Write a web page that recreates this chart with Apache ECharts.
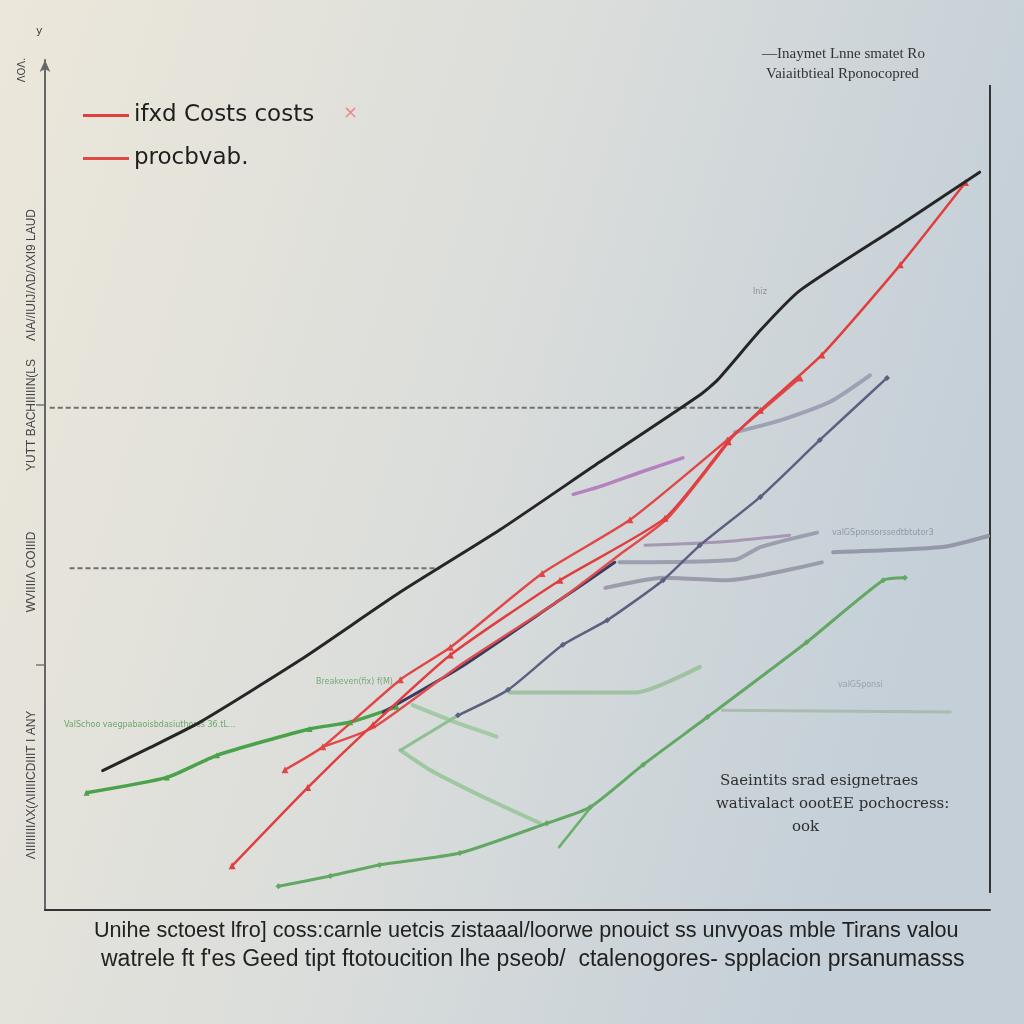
<!DOCTYPE html>
<html>
<head>
<meta charset="utf-8">
<script src="https://cdn.jsdelivr.net/npm/echarts@6/dist/echarts.min.js"></script>
<style>html,body{margin:0;padding:0;}#c{width:1024px;height:1024px;}</style>
</head>
<body>
<div id="c"></div>
<script>
// ---- data (x: production volume units 0-100, y: cost units 0-100) ----
const totalCost   = [[6.1,16.4],[11.1,19.1],[16.4,22.1],[27.0,29.4],[37.6,37.4],[48.1,44.7],[58.7,52.7],[69.3,60.6],[71.2,62.4],[75.7,68.2],[79.9,72.9],[90.5,80.6],[98.9,86.8]];
const fixedCosts  = [[19.8,5.2],[27.8,14.4],[34.7,21.8],[42.9,30.0],[54.5,38.8],[65.6,46.1],[72.3,55.1],[75.7,58.8],[82.2,65.3],[90.5,75.9],[97.4,85.6]];
const production  = [[25.4,16.5],[29.4,19.2],[37.6,27.1],[42.9,30.9],[52.6,39.6],[61.9,45.9],[72.2,55.3],[79.9,62.6]];
const redThird    = [[29.4,19.2],[34.8,21.5],[43.9,28.8],[54.5,36.5],[60.8,41.8],[65.9,46.1],[72.5,55.3]];
const pinkCurve   = [[55.9,48.9],[58.7,49.8],[63.0,51.5],[67.5,53.2]];
const navyOne     = [[35.8,23.3],[43.9,28.5],[54.5,36.5],[60.3,40.9]];
const navyTwo     = [[43.7,22.9],[49.0,25.9],[54.8,31.2],[59.5,34.1],[65.4,38.8],[69.3,42.9],[75.7,48.6],[82.0,55.3],[89.1,62.6]];
const grayA       = [[73.0,56.2],[77.8,57.6],[83.1,59.8],[87.3,62.9]];
const grayB       = [[60.8,40.9],[73.0,41.2],[75.7,42.7],[81.7,44.4]];
const grayC       = [[59.3,37.9],[65.4,39.1],[72.2,38.8],[82.2,40.9]];
const grayD       = [[83.4,42.1],[95.0,42.7],[99.8,44.0]];
const grayE       = [[63.5,42.9],[71.4,43.3],[78.8,44.1]];
const greenMain   = [[24.7,2.8],[30.2,4.0],[35.4,5.3],[43.9,6.7],[53.1,10.2],[57.7,12.1],[63.3,17.1],[70.1,22.7],[80.6,31.5],[88.7,38.8],[91.0,39.1]];
const greenTail   = [[54.4,7.4],[57.7,12.0]];
const greenLeft   = [[4.4,13.8],[12.9,15.6],[18.2,18.2],[28.0,21.3],[32.3,22.1],[37.2,23.9]];
const paleA       = [[37.6,18.8],[43.7,22.9]];
const paleB       = [[37.6,18.8],[40.7,16.5],[46.0,13.5],[52.4,10.2]];
const paleC       = [[38.9,24.1],[43.4,22.1],[47.8,20.4]];
const paleD       = [[49.2,25.6],[62.6,25.6],[69.3,28.6]];
const paleE       = [[71.7,23.5],[95.8,23.3]];
const dashUpper   = [[0.5,59.1],[75.7,59.1]];
const dashLower   = [[2.6,40.2],[41.8,40.2]];
const legendNames = ['ifxd Costs costs', 'procbvab.'];

const chart = echarts.init(document.getElementById('c'));

function ln(name, data, color, width, opts) {
  return Object.assign({
    name: name, type: 'line', data: data, smooth: 0.2,
    symbol: 'none', symbolSize: 7, silent: true, animation: false,
    lineStyle: { color: color, width: width, cap: 'round', join: 'round' },
    itemStyle: { color: color }
  }, opts || {});
}

chart.setOption({
  animation: false,
  backgroundColor: {
    type: 'linear', x: 0, y: 0, x2: 1, y2: 0.3,
    colorStops: [{offset: 0, color: '#ece7da'}, {offset: 0.5, color: '#dcdedb'}, {offset: 1, color: '#c4cfd8'}]
  },
  grid: { left: 45, right: 34, top: 60, bottom: 114 },
  xAxis: {
    type: 'value', min: 0, max: 100,
    axisLine: { show: true, lineStyle: { color: '#333', width: 2 } },
    axisTick: { show: false }, axisLabel: { show: false }, splitLine: { show: false }
  },
  yAxis: {
    type: 'value', min: 0, max: 100,
    axisLine: { show: true, symbol: ['none', 'arrow'], symbolSize: [8, 12], lineStyle: { color: '#666', width: 2 } },
    axisTick: { show: false }, axisLabel: { show: false }, splitLine: { show: false }
  },
  legend: {
    data: legendNames, orient: 'vertical', left: 78, top: 99, itemGap: 20,
    icon: 'rect', itemWidth: 46, itemHeight: 3,
    textStyle: { fontFamily: 'DejaVu Sans', fontSize: 23, color: '#1e1e1e' },
    selectedMode: false
  },
  series: [
    ln('dashU', dashUpper, '#6f6f6f', 2, { smooth: false, lineStyle: { color: '#707070', width: 2, type: [5, 3] } }),
    ln('dashL', dashLower, '#6f6f6f', 2, { smooth: false, lineStyle: { color: '#707070', width: 2, type: [5, 3] } }),
    ln('paleE', paleE, '#a9bcae', 3),
    ln('paleD', paleD, '#9fc2a2', 4),
    ln('paleC', paleC, '#a3c9a6', 4),
    ln('paleB', paleB, '#9fc8a1', 4),
    ln('paleA', paleA, '#8fc092', 3),
    ln('grayD', grayD, '#9598a8', 4),
    ln('grayC', grayC, '#9a9ca9', 4),
    ln('grayB', grayB, '#9c9fae', 4),
    ln('grayE', grayE, '#a796b4', 3),
    ln('grayA', grayA, '#9ea1b4', 4),
    ln('greenMain', greenMain, '#62a864', 3, { symbol: 'diamond', showSymbol: true, symbolSize: 6 }),
    ln('greenTail', greenTail, '#6cae6c', 2.5),
    ln('greenLeft', greenLeft, '#4aa24a', 3.5, { symbol: 'triangle', showSymbol: true, symbolSize: 6 }),
    ln('navyTwo', navyTwo, '#5d6080', 2.5, { symbol: 'diamond', showSymbol: true, symbolSize: 6 }),
    ln('navyOne', navyOne, '#3a3b62', 3),
    ln('pink', pinkCurve, '#b581bf', 3.5),
    ln('redThird', redThird, '#e24b4b', 2.5),
    ln(legendNames[1], production, '#e04848', 2.5, { symbol: 'triangle', showSymbol: true, symbolSize: 7 }),
    ln(legendNames[0], fixedCosts, '#e03f3f', 2.5, { symbol: 'triangle', showSymbol: true, symbolSize: 7 }),
    ln('total', totalCost, '#262626', 3, { z: 5 })
  ],
  graphic: [
    { type: 'text', left: 343, top: 104, style: { text: '×', fontSize: 18, fill: '#e88', fontFamily: 'DejaVu Sans' } },
    { type: 'line', shape: { x1: 990, y1: 85, x2: 990, y2: 893 }, style: { stroke: '#333', lineWidth: 2 } },
    { type: 'line', shape: { x1: 36, y1: 405, x2: 45, y2: 405 }, style: { stroke: '#777', lineWidth: 1.5 } },
    { type: 'line', shape: { x1: 36, y1: 665, x2: 45, y2: 665 }, style: { stroke: '#777', lineWidth: 1.5 } },
    { type: 'text', left: 762, top: 47, style: { text: '—Inaymet Lnne smatet Ro', fontSize: 15, fill: '#333', fontFamily: 'Liberation Serif' } },
    { type: 'text', left: 766, top: 67, style: { text: 'Vaiaitbtieal Rponocopred', fontSize: 15, fill: '#333', fontFamily: 'Liberation Serif' } },
    { type: 'text', left: 720, top: 774, style: { text: 'Saeintits srad esignetraes', fontSize: 15, fill: '#2f2f2f', fontFamily: 'DejaVu Serif' } },
    { type: 'text', left: 716, top: 797, style: { text: 'wativalact oootEE pochocress:', fontSize: 15, fill: '#2f2f2f', fontFamily: 'DejaVu Serif' } },
    { type: 'text', left: 792, top: 820, style: { text: 'ook', fontSize: 15, fill: '#2f2f2f', fontFamily: 'DejaVu Serif' } },
    { type: 'text', left: 94, top: 920, style: { text: 'Unihe sctoest lfro] coss:carnle uetcis zistaaal/loorwe pnouict ss unvyoas mble Tirans valou', fontSize: 21.6, fill: '#222', fontFamily: 'Liberation Sans' } },
    { type: 'text', left: 101, top: 948, style: { text: "watrele ft f'es Geed tipt ftotoucition lhe pseob/  ctalenogores- spplacion prsanumasss", fontSize: 23, fill: '#222', fontFamily: 'Liberation Sans' } },
    { type: 'text', left: 64, top: 721, style: { text: 'ValSchoo vaegpabaoisbdasiuthorss 36.tL...', fontSize: 8, fill: '#6aa86a', fontFamily: 'DejaVu Sans' } },
    { type: 'text', left: 316, top: 678, style: { text: 'Breakeven(fix) f(M)', fontSize: 8, fill: '#77aa77', fontFamily: 'DejaVu Sans' } },
    { type: 'text', left: 832, top: 529, style: { text: 'valGSponsorssedtbtutor3', fontSize: 8, fill: '#9096a6', fontFamily: 'DejaVu Sans' } },
    { type: 'text', left: 838, top: 681, style: { text: 'valGSponsi', fontSize: 8, fill: '#9aa0ac', fontFamily: 'DejaVu Sans' } },
    { type: 'text', left: 753, top: 288, style: { text: 'Iniz', fontSize: 8, fill: '#8a8e9a', fontFamily: 'DejaVu Sans' } },
    { type: 'text', left: 36, top: 26, style: { text: 'y', fontSize: 11, fill: '#444', fontFamily: 'DejaVu Sans' } },
    { type: 'text', x: 22, y: 70, rotation: Math.PI / 2, style: { text: 'ΛOΛ.', fontSize: 10, fill: '#444', fontFamily: 'DejaVu Sans', align: 'center', verticalAlign: 'middle' } },
    { type: 'text', x: 32, y: 275, rotation: Math.PI / 2, style: { text: 'ΛIA//IUIJ/ΛD/ΛXI9 LAUD', fontSize: 12, fill: '#444', fontFamily: 'Liberation Sans', align: 'center', verticalAlign: 'middle' } },
    { type: 'text', x: 32, y: 415, rotation: Math.PI / 2, style: { text: 'YUTT BACHIIIIIN(LS', fontSize: 12, fill: '#444', fontFamily: 'Liberation Sans', align: 'center', verticalAlign: 'middle' } },
    { type: 'text', x: 32, y: 572, rotation: Math.PI / 2, style: { text: 'WVIIIIΛ COIIID', fontSize: 12, fill: '#444', fontFamily: 'Liberation Sans', align: 'center', verticalAlign: 'middle' } },
    { type: 'text', x: 32, y: 785, rotation: Math.PI / 2, style: { text: 'ΛIIIIIIIIΛX(ΛIIIIICDIIIT I ANY', fontSize: 12, fill: '#444', fontFamily: 'Liberation Sans', align: 'center', verticalAlign: 'middle' } }
  ]
});
</script>
</body>
</html>
